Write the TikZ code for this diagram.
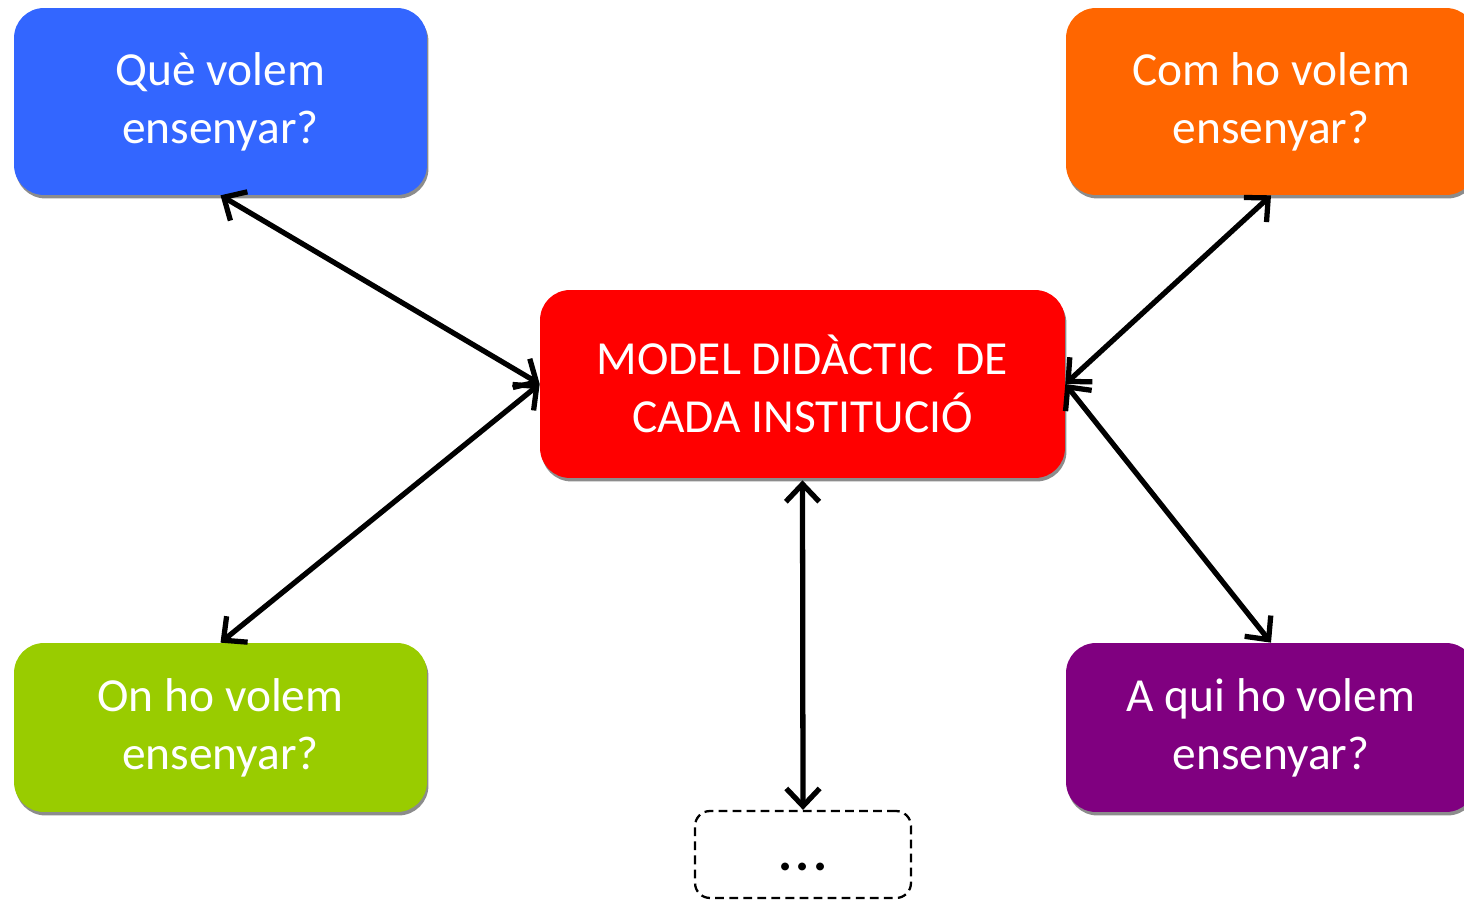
\documentclass[tikz,border=0pt]{standalone}
\usepackage{fontspec}
\setmainfont{Carlito}
\usetikzlibrary{shadows,arrows.meta}

\definecolor{qblue}{RGB}{51,102,255}
\definecolor{qorange}{RGB}{255,102,0}
\definecolor{qred}{RGB}{255,0,0}
\definecolor{qgreen}{RGB}{153,204,0}
\definecolor{qpurple}{RGB}{128,0,128}

\tikzset{
        box/.style = {rectangle, rounded corners=0.6cm, draw=none, text=white, align=center, inner sep=0pt,
                      font=\fontsize{27}{33}\selectfont, minimum width=8.26cm, minimum height=3.74cm,
                      drop shadow={shadow xshift=0.03cm, shadow yshift=-0.07cm, fill=black!45, opacity=1}},
        side/.style = {minimum width=8.2cm},
        low/.style = {minimum height=3.38cm},
        more/.style = {rectangle, rounded corners=0.3cm, draw=black, line width=1.3pt, dash pattern=on 5pt off 3pt,
                       minimum width=4.32cm, minimum height=1.74cm, font=\fontsize{30}{30}\selectfont\bfseries},
        link/.style = {line width=3pt, {Straight Barb[length=10pt,width=19pt,line width=3pt]}-{Straight Barb[length=10pt,width=19pt,line width=3pt]}}
    }

\begin{document}
\begin{tikzpicture}[x=0.02cm,y=-0.02cm]
            \useasboundingbox (0,0) rectangle (1464,901);

            \node[box,fill=qblue] (que) at (220.5, 101.5) {Què volem\\ensenyar?};
            \node[box,side,fill=qorange] (com) at (1271, 101.5) {Com ho volem\\ensenyar?};
            \node[box,low,fill=qgreen] (on) at (220.5, 727.5) {On ho volem\\ensenyar?};
            \node[box,low,side,fill=qpurple] (qui) at (1271, 727.5) {A qui ho volem\\ensenyar?};

            \node[box,fill=qred,minimum width=10.5cm,minimum height=3.76cm] (model) at (802.5, 384) {MODEL DIDÀCTIC \ DE\\CADA INSTITUCIÓ};

            \node[more] (altres) at (803, 854.5) {\raisebox{-9pt}[0pt][0pt]{.\kern2pt.\kern2pt.}};

            \draw[link] (que.south) -- (model.west);
            \draw[link] (on.north) -- (model.west);
            \draw[link] (com.south) -- (model.east);
            \draw[link] (qui.north) -- (model.east);
            \draw[link] ([yshift=-0.04cm]model.south) -- (altres.north);
        \end{tikzpicture}
\end{document}
